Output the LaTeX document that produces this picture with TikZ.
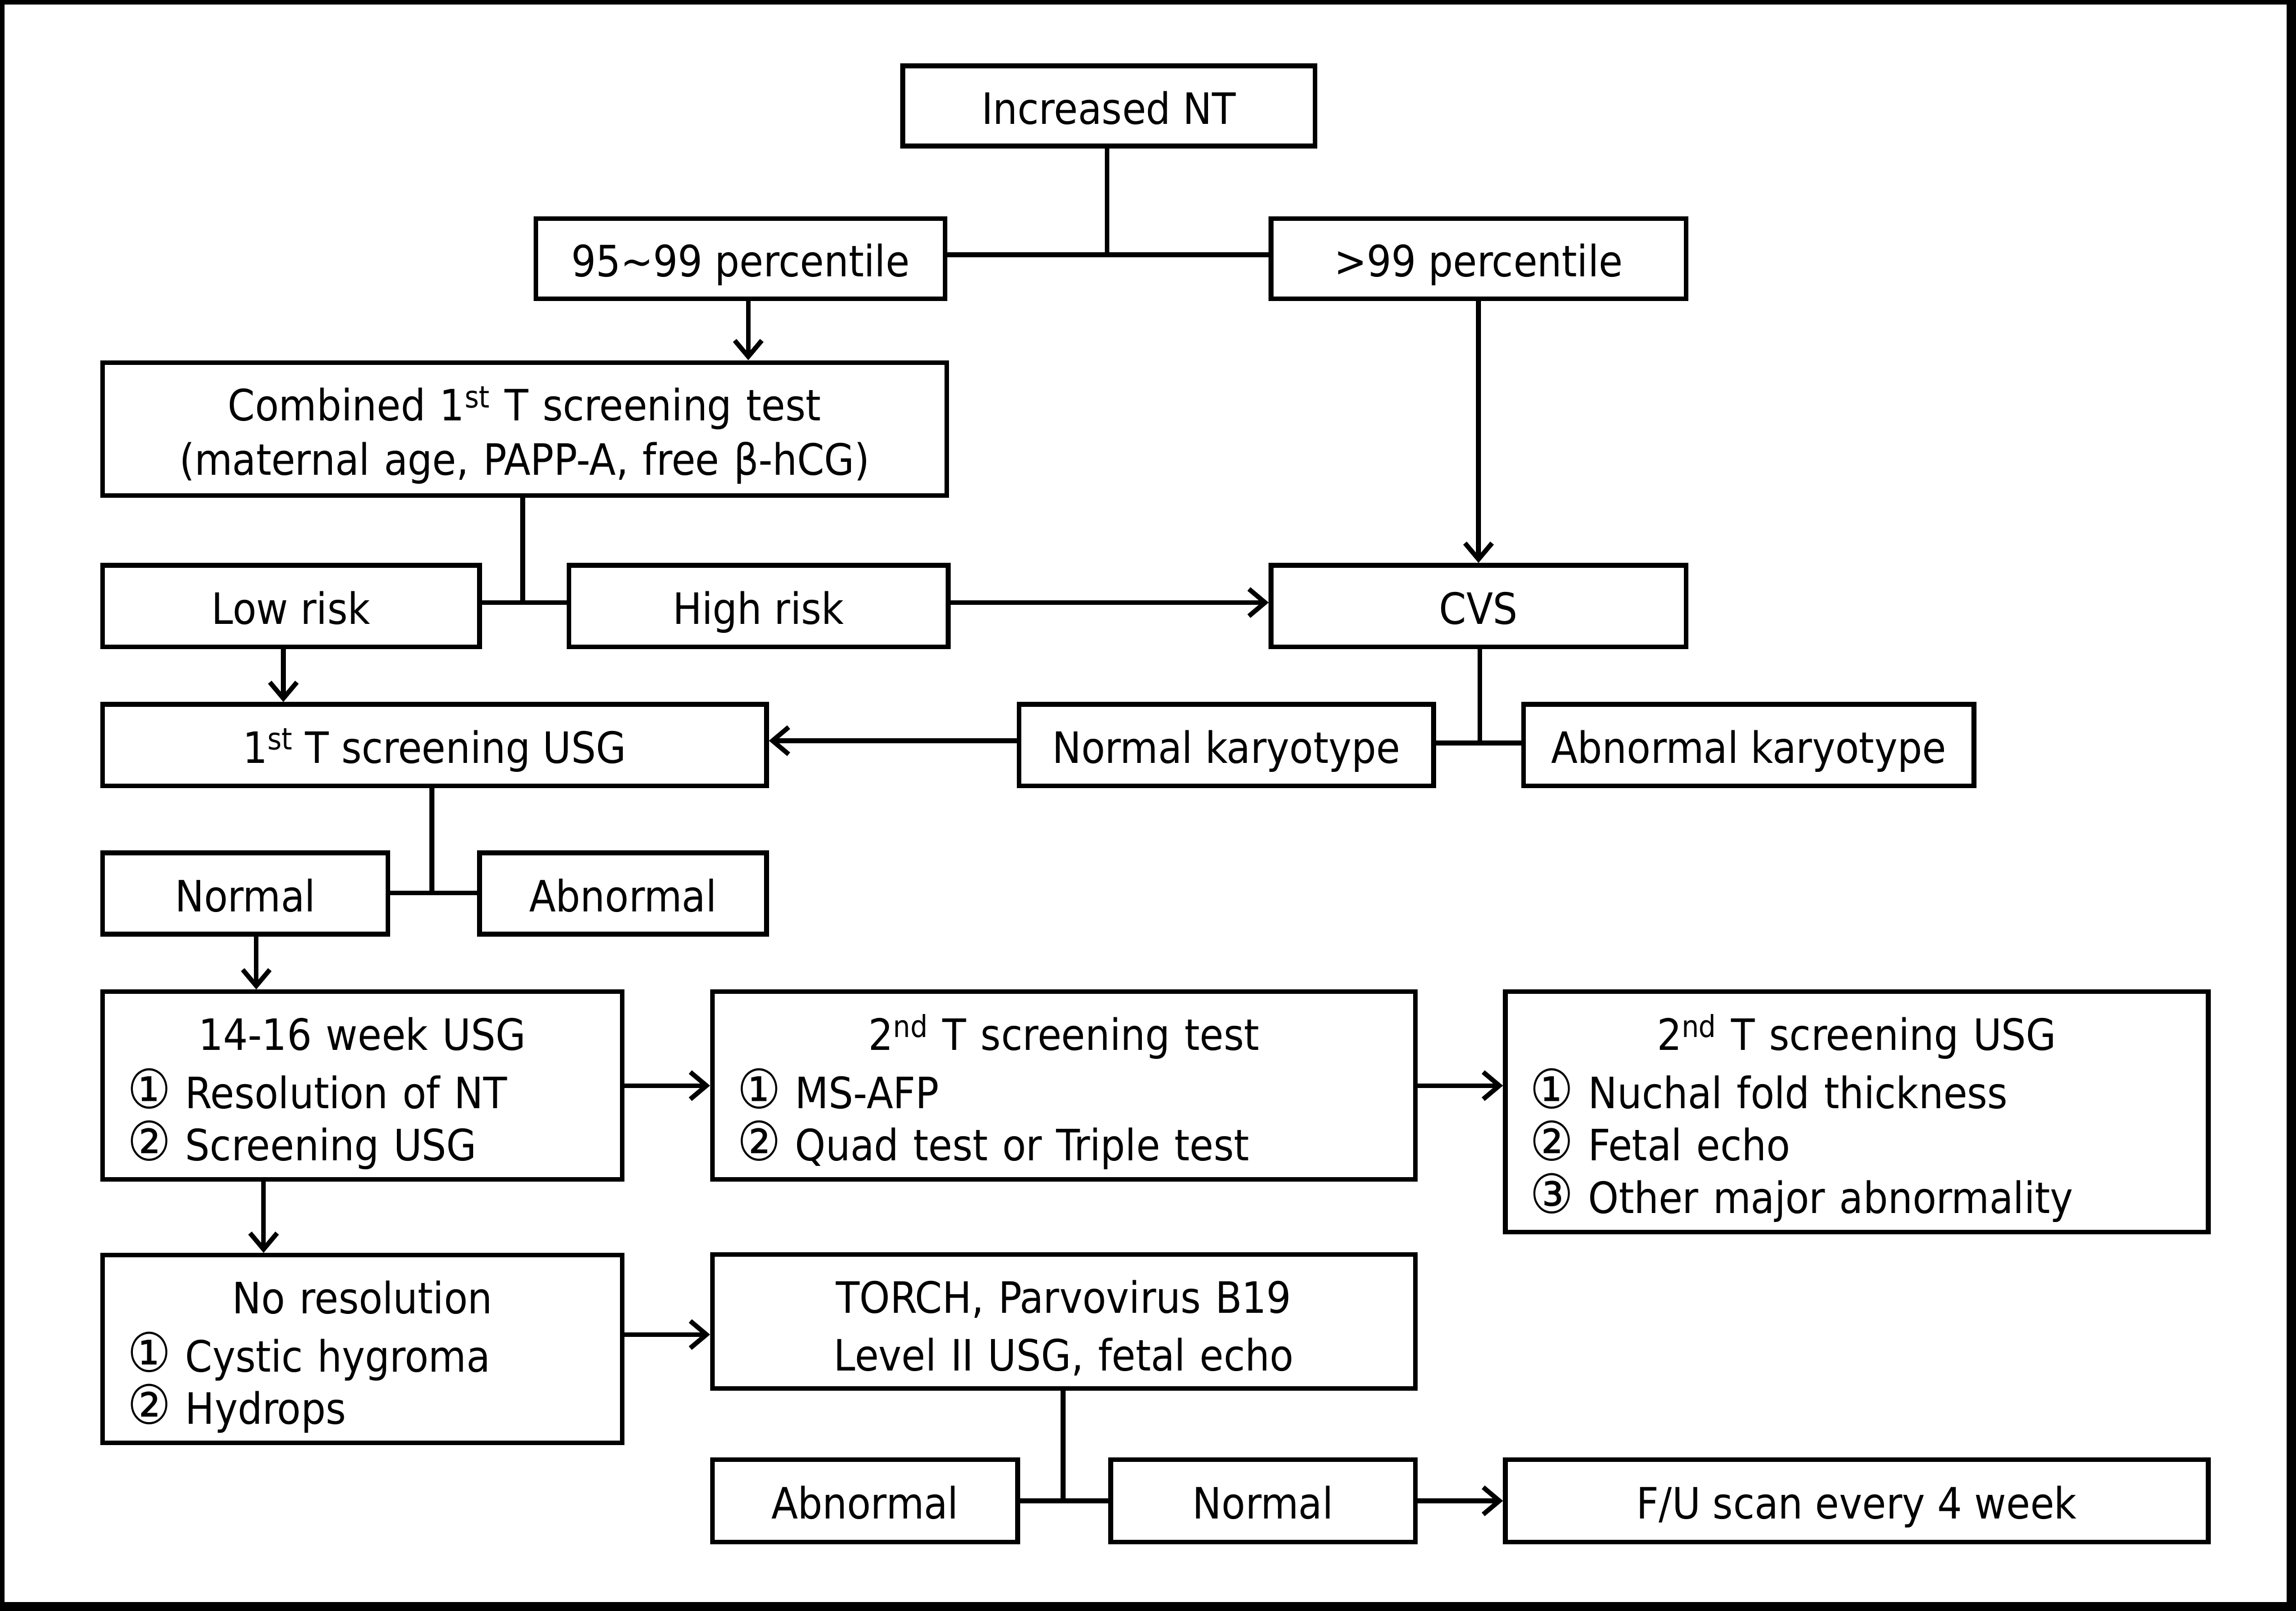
\documentclass[tikz,border=0pt]{standalone}
\usepackage{fontspec}
\IfFontExistsTF{DejaVu Sans Condensed}{\setmainfont{DejaVu Sans Condensed}}{\setmainfont{DejaVu Sans}[FakeStretch=0.9]}
\usetikzlibrary{arrows.meta}
\newcommand\figfont{\fontsize{29.5}{35.8}\selectfont}
\newcommand\ctitle[1]{\hfill #1\hfill\null}
\newcommand\cnum[1]{{\fontsize{37}{35.8}\selectfont #1}}
\begin{document}
\begin{tikzpicture}[x=1pt,y=-1pt,
  lw/.style={line width=3.2pt},
  box/.style={draw, lw, rectangle, inner sep=0pt, font=\figfont, text height=30pt, text depth=5.4pt},
  mbox/.style={draw, lw, rectangle, inner ysep=0pt, inner xsep=17pt, font=\figfont, text height=40pt},
  arr/.style={lw, -{Straight Barb[length=11pt,width=18.5pt]}}
]
\useasboundingbox (0,0) rectangle (1568,1100.2);
\fill[black, even odd rule] (0,0) rectangle (1568,1100.2) (3.1,3.1) rectangle (1561.6,1094.1);

% single-line boxes
\node[box, minimum width=281.5pt, minimum height=54.7pt] (nt) at (757.25,72.35) {Increased NT};
\node[box, minimum width=279.5pt, minimum height=54.7pt] (p95) at (505.75,176.65) {95\textasciitilde 99 percentile};
\node[box, minimum width=283.4pt, minimum height=54.7pt] (p99) at (1009.7,176.65) {>99 percentile};
\node[box, minimum width=257.5pt, minimum height=55.7pt] (low) at (198.75,413.85) {Low risk};
\node[box, minimum width=259pt, minimum height=55.7pt] (high) at (518,413.85) {High risk};
\node[box, minimum width=283.4pt, minimum height=55.7pt] (cvs) at (1009.7,413.85) {CVS};
\node[box, minimum width=453.5pt, minimum height=55.7pt] (usg1) at (296.75,508.85) {1\textsuperscript{st} T screening USG};
\node[box, minimum width=283pt, minimum height=55.7pt] (nk) at (837.5,508.85) {Normal karyotype};
\node[box, minimum width=307.5pt, minimum height=55.7pt] (ak) at (1194.25,508.85) {Abnormal karyotype};
\node[box, minimum width=195pt, minimum height=55.6pt] (norm1) at (167.5,610.2) {Normal};
\node[box, minimum width=196pt, minimum height=55.6pt] (abn1) at (425.5,610.2) {Abnormal};
\node[box, minimum width=208.5pt, minimum height=56.3pt] (abn2) at (590.75,1024.95) {Abnormal};
\node[box, minimum width=208pt, minimum height=56.3pt] (norm2) at (862.5,1024.95) {Normal};
\node[box, minimum width=480pt, minimum height=56.3pt] (fu) at (1268,1024.95) {F/U scan every 4 week};

% multi-line boxes
\node[mbox, align=center, text width=542.5pt, minimum height=90.8pt, text height=39.8pt, text depth=51pt,
      font={\fontsize{29.5}{37}\selectfont}] (comb) at (358.25,293)
  {Combined 1\textsuperscript{st} T screening test\\(maternal age, PAPP-A, free β-hCG)};
\node[mbox, align=left, text width=321pt, minimum height=128.2pt, text depth=88.2pt] (w1416) at (247.5,741.4)
  {\ctitle{14-16 week USG}\\[3.8pt]\cnum{①} Resolution of NT\\\cnum{②} Screening USG};
\node[mbox, align=left, text width=446pt, minimum height=128.2pt, text depth=88.2pt] (t2test) at (726.5,741.4)
  {\ctitle{2\textsuperscript{nd} T screening test}\\[3.8pt]\cnum{①} MS-AFP\\\cnum{②} Quad test or Triple test};
\node[mbox, align=left, text width=446pt, minimum height=164.1pt, text depth=124.1pt] (t2usg) at (1268,759.35)
  {\ctitle{2\textsuperscript{nd} T screening USG}\\[3.8pt]\cnum{①} Nuchal fold thickness\\\cnum{②} Fetal echo\\\cnum{③} Other major abnormality};
\node[mbox, align=left, text width=321pt, minimum height=128.1pt, text depth=88.1pt] (nores) at (247.5,921.25)
  {\ctitle{No resolution}\\[3.8pt]\cnum{①} Cystic hygroma\\\cnum{②} Hydrops};
\node[mbox, align=center, text width=446pt, minimum height=91.4pt, text depth=51.4pt,
      font={\fontsize{29.5}{39.3}\selectfont}] (torch) at (726.5,902.5)
  {TORCH, Parvovirus B19\\Level II USG, fetal echo};

% connectors
\coordinate (j1) at (756,174);
\draw[lw] (nt.south -| j1) -- (j1);
\draw[lw] (p95.east |- j1) -- (p99.west |- j1);
\coordinate (a1) at ([xshift=5.25pt]p95.south);
\draw[arr] (a1) -- (a1 |- comb.north);
\draw[arr] (p99.south) -- (cvs.north);

\coordinate (j2) at (357,411.5);
\draw[lw] (comb.south -| j2) -- (j2);
\draw[lw] (low.east |- j2) -- (high.west |- j2);
\draw[arr] (high.east |- j2) -- (cvs.west |- j2);
\coordinate (a2) at ([xshift=-5.25pt]low.south);
\draw[arr] (a2) -- (a2 |- usg1.north);

\coordinate (j3) at (1010.5,507.4);
\draw[lw] (cvs.south -| j3) -- (j3);
\draw[lw] (nk.east |- j3) -- (ak.west |- j3);
\coordinate (a3) at ([yshift=3pt]nk.west);
\draw[arr] (a3) -- (a3 -| usg1.east);

\coordinate (j4) at (295,609.7);
\draw[lw] (usg1.south -| j4) -- (j4);
\draw[lw] (norm1.east |- j4) -- (abn1.west |- j4);
\coordinate (a4) at ([xshift=7.5pt]norm1.south);
\draw[arr] (a4) -- (a4 |- w1416.north);

\draw[arr] (w1416.east) -- (t2test.west);
\draw[arr] (t2test.east) -- (t2usg.west |- t2test.east);
\coordinate (a5) at ([xshift=-67.5pt]w1416.south);
\draw[arr] (a5) -- (a5 |- nores.north);
\coordinate (a6) at ([yshift=9.85pt]nores.east);
\draw[arr] (a6) -- (a6 -| torch.west);

\coordinate (j5) at (726,1025);
\draw[lw] (torch.south -| j5) -- (j5);
\draw[lw] (abn2.east |- j5) -- (norm2.west |- j5);
\draw[arr] (norm2.east) -- (fu.west);
\end{tikzpicture}
\end{document}
